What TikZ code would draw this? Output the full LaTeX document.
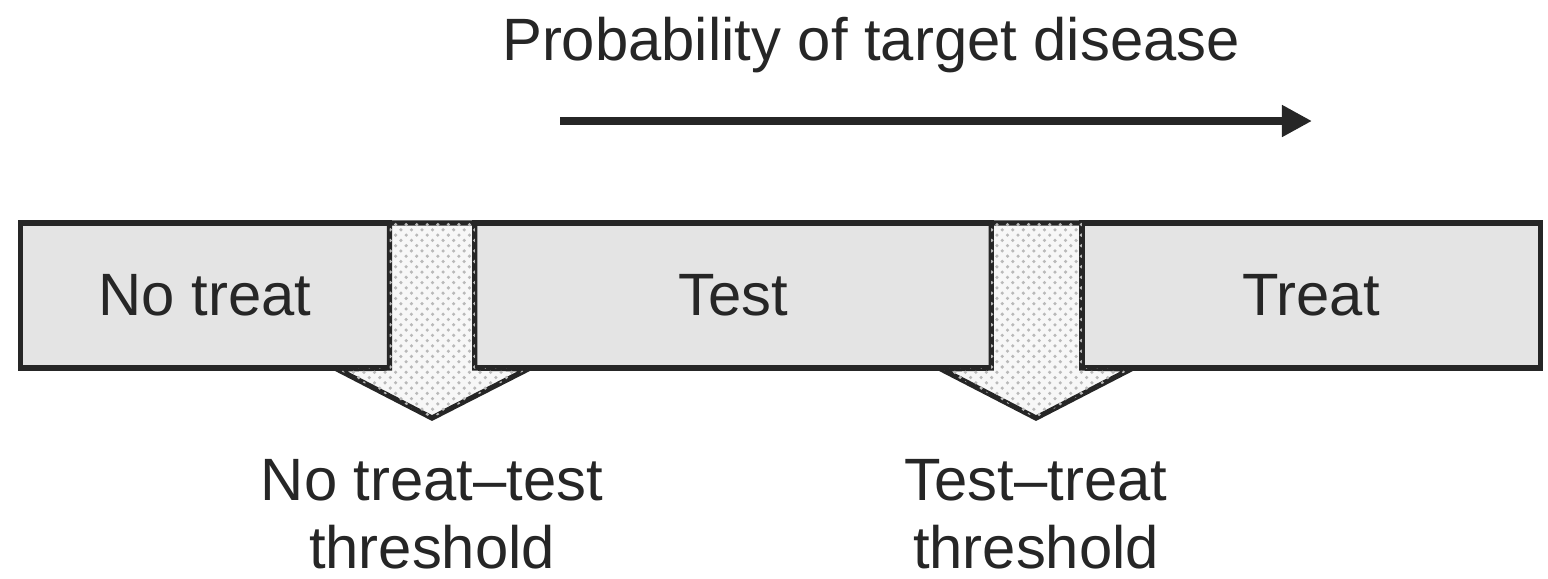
\documentclass[tikz,border=0pt]{standalone}
\usepackage{fontspec}
\setmainfont{Liberation Sans}
\usetikzlibrary{patterns,arrows.meta}
\definecolor{ink}{HTML}{262626}
\definecolor{boxfill}{HTML}{E4E4E4}
\begin{document}
\begin{tikzpicture}[x=0.01cm,y=-0.01cm,
  txt/.style={font=\fontsize{17}{19.3}\selectfont,text=ink,inner sep=0pt,align=center},
  zone/.style={txt,draw=ink,line width=1.5pt,fill=boxfill,rectangle,
    minimum height=1.45cm,outer sep=0pt},
  threshold/.style={draw=ink,line width=1.5pt,line join=miter,fill=gray!6,
    postaction={pattern=crosshatch dots,pattern color=gray!55}},
  axis/.style={draw=ink,line width=2.2pt,-{Triangle[length=0.3cm,width=0.3cm]}}]
\useasboundingbox (0,0) rectangle (1548,578);

% axis title and direction arrow
\node[txt,anchor=base] (title) at (871,60) {Probability of target disease};
\coordinate (pstart) at (560,121);
\coordinate (pend) at (1312,121);
\draw[axis] (pstart) -- (pend);

% the three decision zones
\node[zone,minimum width=3.69cm] (notreat) at (205,295.5) {No treat};
\node[zone,minimum width=5.16cm] (test) at (733,295.5) {Test};
\node[zone,minimum width=4.58cm] (treat) at (1311,295.5) {Treat};

% threshold arrows between the zones
\draw[threshold] (notreat.north east) -- (notreat.south east) -- (337,369)
  -- (432,418) -- (528,369) -- (test.south west) -- (test.north west) -- cycle;
\draw[threshold] (test.north east) -- (test.south east) -- (941,369)
  -- (1036,418) -- (1131,369) -- (treat.south west) -- (treat.north west) -- cycle;

% threshold labels
\node[txt] (lowthr) at (432,514) {No treat–test\\threshold};
\node[txt] (highthr) at (1036,514) {Test–treat\\threshold};
\end{tikzpicture}
\end{document}
